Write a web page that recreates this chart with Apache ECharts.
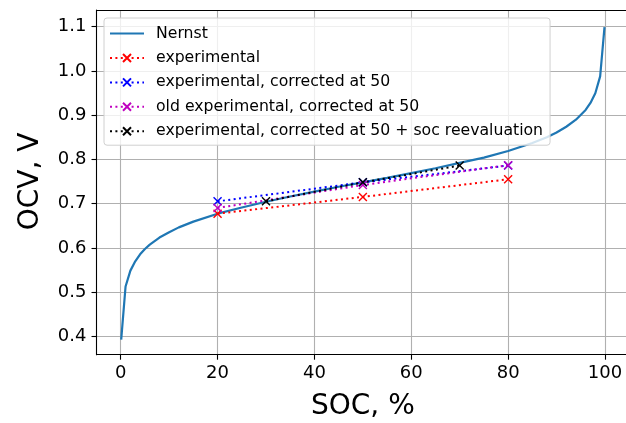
<!DOCTYPE html>
<html>
<head>
<meta charset="utf-8">
<script src="https://cdn.jsdelivr.net/npm/echarts@6/dist/echarts.min.js"></script>
<style>
  html, body { margin: 0; padding: 0; background: #fff; }
  #chart { width: 626px; height: 423px; }
</style>
</head>
<body>
<div id="chart"></div>
<script>
// values
const nernstSoc = [0.1, 1, 2, 3, 4, 5, 6, 8, 10, 12, 15, 20, 25, 30, 35, 40, 45, 50,
  55, 60, 65, 70, 75, 80, 85, 88, 90, 92, 94, 96, 97, 98, 99, 99.9]
const nernstOcv = [0.3925, 0.513, 0.549, 0.570, 0.586, 0.598, 0.608, 0.624, 0.636, 0.647, 0.660,
  0.678, 0.692, 0.705, 0.717, 0.728, 0.739, 0.749, 0.759, 0.770, 0.781, 0.793, 0.805,
  0.820, 0.838, 0.851, 0.862, 0.875, 0.891, 0.913, 0.929, 0.951, 0.989, 1.1005]

const expSoc = [20, 50, 80]
const expOcv = [0.678, 0.716, 0.756]
const corrOcv = [0.706, 0.749, 0.787]
const oldCorrOcv = [0.691, 0.743, 0.788]
const reevalSoc = [30, 50, 70]
const reevalOcv = [0.706, 0.749, 0.787]

const xTicks = { min: 0, max: 100, step: 20 }
const yTicks = { min: 0.4, max: 1.1, step: 0.1 }

const FONT = 'DejaVu Sans'
const X_MARK = 'path://M0,0L10,10M10,0L0,10'

function pairs(xs, ys) {
  return xs.map((x, i) => [x, ys[i]])
}

function markerSeries(name, color, xs, ys) {
  return {
    name: name,
    type: 'line',
    xAxisIndex: 0,
    yAxisIndex: 0,
    data: pairs(xs, ys),
    symbol: X_MARK,
    symbolSize: 8,
    showAllSymbol: true,
    lineStyle: { color: color, width: 2, type: [2, 3.4] },
    itemStyle: { color: color, borderColor: color, borderWidth: 1.4 },
    emphasis: { disabled: true }
  }
}

// only the spine line of an axis, nothing else
function spine(extra) {
  return Object.assign({
    type: 'value',
    axisLine: { show: true, onZero: false, lineStyle: { color: '#000', width: 1.1 } },
    axisTick: { show: false },
    axisLabel: { show: false },
    splitLine: { show: false }
  }, extra)
}

const chart = echarts.init(document.getElementById('chart'), null, { renderer: 'canvas' })

const option = {
  backgroundColor: '#fff',
  animation: false,
  textStyle: { fontFamily: FONT },
  grid: [
    // data area, right spine falls just outside the picture
    { left: 96.5, width: 532.7, top: 10, bottom: 68.3, outerBoundsMode: 'none', containLabel: false },
    // x tick area
    { left: 120.7, right: 21, top: 10, bottom: 68.3, outerBoundsMode: 'none', containLabel: false },
    // y tick area
    { left: 96.5, width: 532.7, top: 26.7, bottom: 86.7, outerBoundsMode: 'none', containLabel: false }
  ],
  xAxis: [
    spine({ gridIndex: 0, min: -5, max: 105, position: 'bottom' }),
    {
      gridIndex: 1, type: 'value', min: xTicks.min, max: xTicks.max, interval: xTicks.step,
      axisLine: { show: false },
      axisTick: { show: true, inside: false, length: 5, lineStyle: { color: '#000', width: 1.1 } },
      axisLabel: { color: '#000', fontSize: 18, fontFamily: FONT, margin: 10 },
      splitLine: { show: true, lineStyle: { color: '#b0b0b0', width: 1.1 } },
      name: 'SOC, %', nameLocation: 'middle', nameGap: 38,
      nameTextStyle: { color: '#000', fontSize: 28, fontFamily: FONT }
    },
    { gridIndex: 2, type: 'value', min: 0, max: 1, show: false },
    spine({ gridIndex: 0, min: -5, max: 105, position: 'top' })
  ],
  yAxis: [
    spine({ gridIndex: 0, min: 0.3585, max: 1.1395, position: 'left' }),
    { gridIndex: 1, type: 'value', min: 0, max: 1, show: false },
    {
      gridIndex: 2, type: 'value', min: yTicks.min, max: yTicks.max, interval: yTicks.step,
      axisLine: { show: false },
      axisTick: { show: true, inside: false, length: 5, lineStyle: { color: '#000', width: 1.1 } },
      axisLabel: { color: '#000', fontSize: 18, fontFamily: FONT, margin: 10, formatter: v => v.toFixed(1) },
      splitLine: { show: true, lineStyle: { color: '#b0b0b0', width: 1.1 } },
      name: 'OCV, V', nameLocation: 'middle', nameGap: 52,
      nameTextStyle: { color: '#000', fontSize: 28, fontFamily: FONT }
    }
  ],
  legend: {
    orient: 'vertical',
    left: 104,
    top: 18,
    padding: [7.6, 7, 6, 5],
    itemWidth: 34,
    itemHeight: 10,
    itemGap: 8.4,
    backgroundColor: 'rgba(255,255,255,0.8)',
    borderColor: '#d0d0d0',
    borderWidth: 1,
    borderRadius: 3,
    textStyle: { color: '#000', fontSize: 15.7, fontFamily: FONT, padding: [0, 0, 0, 7] },
    data: [
      { name: 'Nernst', itemStyle: { color: 'transparent', borderWidth: 0 } },
      'experimental',
      'experimental, corrected at 50',
      'old experimental, corrected at 50',
      'experimental, corrected at 50 + soc reevaluation'
    ]
  },
  series: [
    {
      name: 'Nernst',
      type: 'line',
      xAxisIndex: 0,
      yAxisIndex: 0,
      data: pairs(nernstSoc, nernstOcv),
      showSymbol: false,
      symbol: 'none',
      lineStyle: { color: '#1f77b4', width: 2.2 },
      itemStyle: { color: '#1f77b4' },
      emphasis: { disabled: true }
    },
    markerSeries('experimental', '#ff0000', expSoc, expOcv),
    markerSeries('experimental, corrected at 50', '#0000ff', expSoc, corrOcv),
    markerSeries('old experimental, corrected at 50', '#bf00bf', expSoc, oldCorrOcv),
    markerSeries('experimental, corrected at 50 + soc reevaluation', '#000000', reevalSoc, reevalOcv)
  ]
}

chart.setOption(option)
</script>
</body>
</html>
